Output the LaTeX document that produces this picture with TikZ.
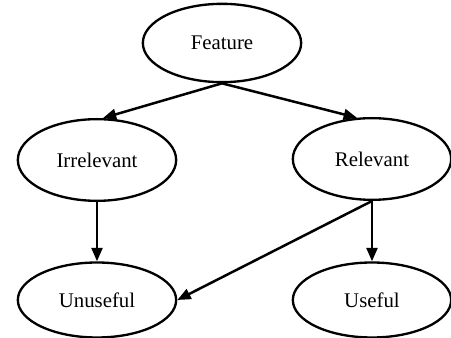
\documentclass[tikz,border=0pt]{standalone}
\usepackage{fontspec}
\setmainfont{Liberation Serif}
\usetikzlibrary{shapes.geometric,arrows.meta}
\tikzset{
  ell/.style={draw, ellipse, line width=1.4pt, inner sep=0pt,
    minimum width=95pt, minimum height=47pt, font=\fontsize{12.5}{14}\selectfont},
  arr/.style={line width=1.5pt, -{Triangle[length=8pt,width=6.5pt]}}
}
\begin{document}
\begin{tikzpicture}[x=0.6pt,y=-0.6pt]
\useasboundingbox (0,0) rectangle (451,338);
%
\node[ell] (feature) at (222,43) {Feature};
\node[ell, minimum height=49pt] (irrelevant) at (97,160) {Irrelevant};
\node[ell, minimum height=49pt] (relevant) at (372,159) {Relevant};
\node[ell, minimum height=45pt] (unuseful) at (97,300) {Unuseful};
\node[ell, minimum height=45pt] (useful) at (372,300) {Useful};
%
\draw[arr] (feature.south) -- (irrelevant.82);
\draw[arr] (feature.south) -- (relevant.110);
\draw[arr] (irrelevant.south) -- (unuseful.north);
\draw[arr] (relevant.south) -- (useful.north);
\draw[arr] (relevant.south) -- (unuseful.east);
%
\end{tikzpicture}
\end{document}
